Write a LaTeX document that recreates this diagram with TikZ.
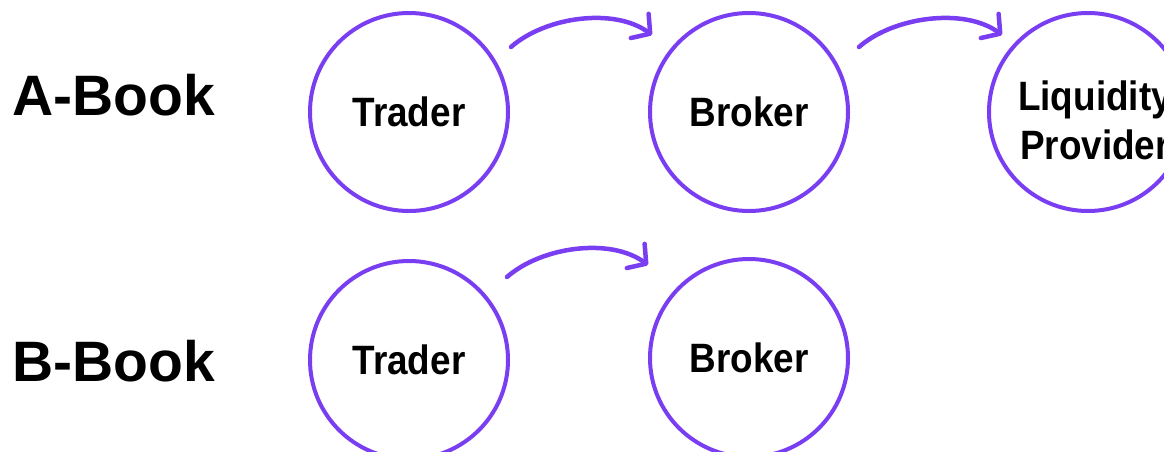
\documentclass[tikz,border=0pt]{standalone}
\usepackage{fontspec}
\setmainfont{Liberation Sans}
\newfontfamily\nodefont[FakeStretch=0.9]{Liberation Sans}
\usetikzlibrary{arrows.meta}
\definecolor{flowpurple}{HTML}{7A3EF2}
\tikzset{
  party/.style={circle, draw=flowpurple, line width=4pt, minimum size=198pt,
    inner sep=0pt, font=\nodefont\fontsize{41}{49}\selectfont\bfseries, align=center},
  booklabel/.style={anchor=base west, inner sep=0pt,
    font=\fontsize{57}{60}\selectfont\bfseries},
  flow/.style={draw=flowpurple, line width=4.5pt, line cap=round,
    -{Straight Barb[length=13pt, width=30pt, line width=4.5pt, round]}}
}
\begin{document}
\begin{tikzpicture}[x=1pt, y=-1pt]
  \useasboundingbox (0,0) rectangle (1164,451);
  \clip (0,0) rectangle (1164,451);

  % A-Book row
  \node[booklabel] (alabel) at (12,115) {A-Book};
  \node[party] (atrader) at (409,112) {Trader};
  \node[party] (abroker) at (749,112) {Broker};
  \node[party] (alp) at (1088,112) {};
  \node[font=\nodefont\fontsize{41}{49}\selectfont\bfseries, align=center, inner sep=0pt]
    (alptext) at ([shift={(7,8)}]alp.center) {Liquidity\\Provider};

  % B-Book row
  \node[booklabel] (blabel) at (12,381) {B-Book};
  \node[party] (btrader) at (409,360) {Trader};
  \node[party] (bbroker) at (749,358) {Broker};

  % arrow end points above the circles
  \coordinate (a1s) at ([shift={(102,-65)}]atrader.center);
  \coordinate (a1e) at ([shift={(-97,-77)}]abroker.center);
  \coordinate (a2s) at ([shift={(110,-65)}]abroker.center);
  \coordinate (a2e) at ([shift={(-86,-77)}]alp.center);
  \coordinate (b1s) at ([shift={(98,-83)}]btrader.center);
  \coordinate (b1e) at ([shift={(-101,-93)}]bbroker.center);

  % curved flow arrows
  \draw[flow] (a1s) .. controls +(34,-30) and +(-38,-28) .. (a1e);
  \draw[flow] (a2s) .. controls +(34,-30) and +(-38,-28) .. (a2e);
  \draw[flow] (b1s) .. controls +(34,-30) and +(-38,-28) .. (b1e);
\end{tikzpicture}
\end{document}
